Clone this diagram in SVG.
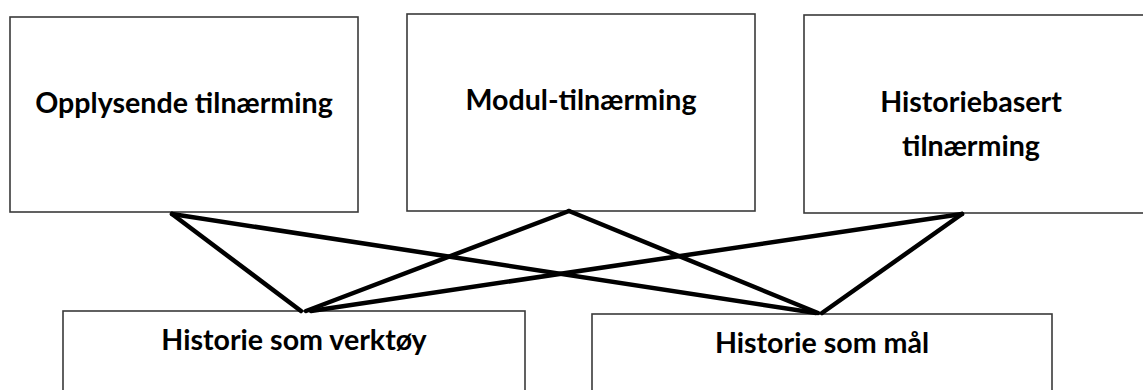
<svg xmlns="http://www.w3.org/2000/svg" width="1143" height="390" viewBox="0 0 1143 390">
  <style>
    .box { fill: #ffffff; stroke: #3a3a3a; stroke-width: 1.6; }
    .lbl { font-family: Lato, "Open Sans", "Liberation Sans", sans-serif; font-weight: bold; font-size: 28.6px; fill: #000000; text-anchor: middle; }
    .conn { stroke: #000000; stroke-width: 4.5; stroke-linecap: round; fill: none; }
  </style>
  <rect width="1143" height="390" fill="#ffffff"/>
  <g id="n-opplysende">
    <rect class="box" x="10" y="17" width="348" height="195"/>
    <text class="lbl" x="184" y="113">Opplysende tilnærming</text>
  </g>
  <g id="n-modul">
    <rect class="box" x="407" y="14" width="348" height="197"/>
    <text class="lbl" x="581" y="110">Modul-tilnærming</text>
  </g>
  <g id="n-historiebasert">
    <rect class="box" x="804" y="15" width="345" height="198"/>
    <text class="lbl" x="971" y="112">Historiebasert</text>
    <text class="lbl" x="971" y="156">tilnærming</text>
  </g>
  <g id="n-verktoy">
    <rect class="box" x="63" y="311" width="462" height="90"/>
    <text class="lbl" x="294" y="350">Historie som verktøy</text>
  </g>
  <g id="n-maal">
    <rect class="box" x="592" y="314" width="460" height="90"/>
    <text class="lbl" x="822" y="353">Historie som mål</text>
  </g>
  <g id="connectors">
    <line class="conn" x1="172" y1="214" x2="301" y2="311"/>
    <line class="conn" x1="172" y1="214" x2="816" y2="313"/>
    <line class="conn" x1="569" y1="211" x2="306" y2="311"/>
    <line class="conn" x1="569" y1="211" x2="818" y2="313"/>
    <line class="conn" x1="962" y1="214" x2="311" y2="311"/>
    <line class="conn" x1="962" y1="214" x2="822" y2="313"/>
  </g>
</svg>
